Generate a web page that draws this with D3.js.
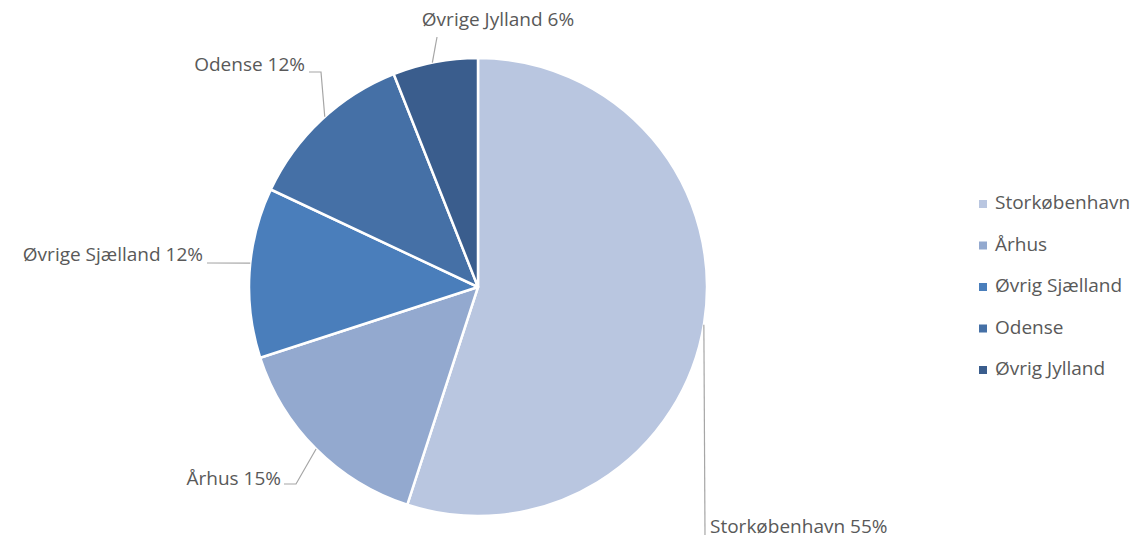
<!DOCTYPE html>
<html>
<head>
<meta charset="utf-8">
<script src="https://cdn.jsdelivr.net/npm/d3@7"></script>
<style>
  body { margin: 0; background: #fff; }
  svg { display: block; }
  text { font-family: "Open Sans", "Noto Sans", sans-serif; fill: #595959; }
</style>
</head>
<body>
<svg id="chart" width="1132" height="538"></svg>
<script>
// ---- data ----
const categories = ["Storkøbenhavn", "Århus", "Øvrige Sjælland", "Odense", "Øvrige Jylland"];
const legendLabels = ["Storkøbenhavn", "Århus", "Øvrig Sjælland", "Odense", "Øvrig Jylland"];
const values = [55, 15, 12, 12, 6];
const colors = ["#B9C6E0", "#93A9CF", "#4A7EBB", "#4570A6", "#3A5D8D"];

// ---- layout ----
const cx = 478, cy = 287, radius = 229;
// per-label: angle on rim (deg, clockwise from top), intermediate points, text position
const labelLayout = [
  { angle: 99.5, pts: [[705, 535]], tx: 710, ty: 528, anchor: "start" },
  { angle: 225, pts: [[296, 484], [284, 484]], tx: 281, ty: 480, anchor: "end" },
  { angle: 276, pts: [[207, 263]], tx: 203, ty: 256, anchor: "end" },
  { angle: 318, pts: [[321, 72], [309, 72]], tx: 305, ty: 66, anchor: "end" },
  { angle: 348.5, pts: [[437, 37]], tx: 498, ty: 21, anchor: "middle" }
];

const svg = d3.select("#chart");
const g = svg.append("g").attr("transform", `translate(${cx},${cy})`);

const pie = d3.pie().sort(null).value(d => d);
const arcs = pie(values);
const arc = d3.arc().innerRadius(0).outerRadius(radius);

g.selectAll("path.slice")
  .data(arcs)
  .enter().append("path")
  .attr("class", "slice")
  .attr("d", arc)
  .attr("fill", (d, i) => colors[i])
  .attr("stroke", "#fff")
  .attr("stroke-width", 2.5)
  .attr("stroke-linejoin", "round");

// leader lines and labels
const line = d3.line();
labelLayout.forEach((L, i) => {
  const a = L.angle * Math.PI / 180;
  const start = [cx + radius * Math.sin(a), cy - radius * Math.cos(a)];
  svg.append("path")
    .attr("d", line([start, ...L.pts]))
    .attr("fill", "none")
    .attr("stroke", "#A6A6A6")
    .attr("stroke-width", 1.2);
  svg.append("text")
    .attr("x", L.tx).attr("y", L.ty)
    .attr("text-anchor", L.anchor)
    .attr("dominant-baseline", "middle")
    .style("font-size", "19px")
    .text(`${categories[i]} ${values[i]}%`);
});

// legend
const legendY = d3.scalePoint().domain(d3.range(values.length)).range([204, 370]);
const legend = svg.append("g");
legendLabels.forEach((lab, i) => {
  const y = legendY(i);
  legend.append("rect")
    .attr("x", 979).attr("y", y - 4)
    .attr("width", 8).attr("height", 8)
    .attr("fill", colors[i]);
  legend.append("text")
    .attr("x", 995).attr("y", y)
    .attr("dominant-baseline", "middle")
    .style("font-size", "19px")
    .text(lab);
});
</script>
</body>
</html>
